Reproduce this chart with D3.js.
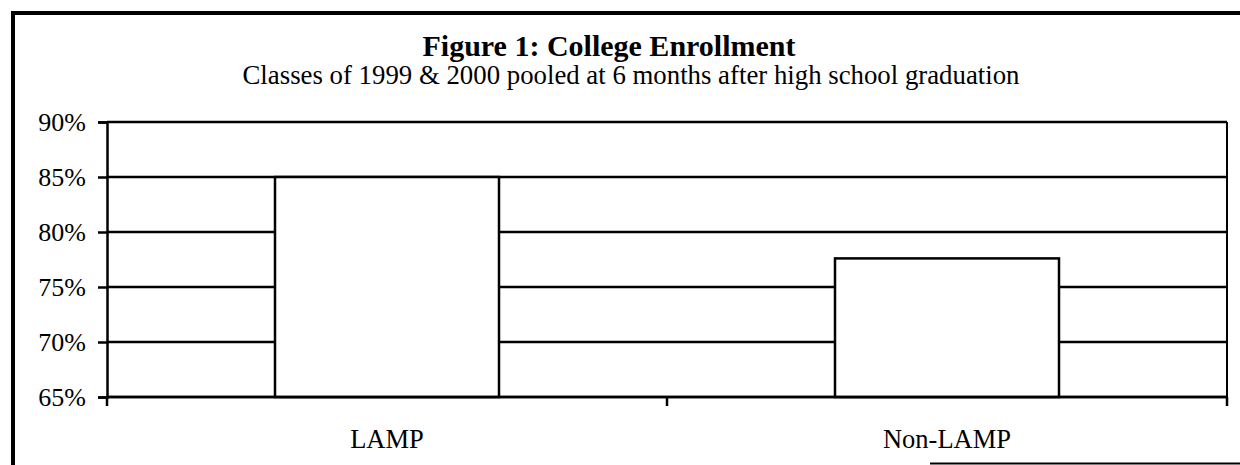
<!DOCTYPE html>
<html>
<head>
<meta charset="utf-8">
<script src="https://cdn.jsdelivr.net/npm/d3@7"></script>
<style>
  body { margin: 0; background: #fff; }
  svg { display: block; }
  text { font-family: "Liberation Serif", "Times New Roman", serif; fill: #000; }
</style>
</head>
<body>
<div id="chart"></div>
<script>
// data
var categories = ["LAMP", "Non-LAMP"];
var enrollment = [0.85, 0.776];
var yTicks = [0.65, 0.70, 0.75, 0.80, 0.85, 0.90];

var W = 1240, H = 465;
var margin = {top: 122, right: 12, bottom: 68, left: 107};

var svg = d3.select("#chart")
	.append("svg")
	.attr("width", W)
	.attr("height", H);

// outer frame (top and left only, like the scan)
svg.append("line")
	.attr("x1", 12).attr("x2", W).attr("y1", 13).attr("y2", 13)
	.attr("stroke", "#000").attr("stroke-width", 4);
svg.append("line")
	.attr("x1", 13).attr("x2", 13).attr("y1", 11).attr("y2", H)
	.attr("stroke", "#000").attr("stroke-width", 4);
svg.append("line")
	.attr("x1", 930).attr("x2", W).attr("y1", 463.5).attr("y2", 463.5)
	.attr("stroke", "#000").attr("stroke-width", 2);

// titles
svg.append("text")
	.attr("x", 609).attr("y", 56)
	.attr("text-anchor", "middle")
	.attr("font-size", 30)
	.attr("font-weight", "bold")
	.text("Figure 1: College Enrollment");

svg.append("text")
	.attr("x", 631).attr("y", 84)
	.attr("text-anchor", "middle")
	.attr("font-size", 26.8)
	.text("Classes of 1999 & 2000 pooled at 6 months after high school graduation");

var x = d3.scaleBand()
	.domain(categories)
	.range([margin.left, W - margin.right - 1])
	.paddingInner(0.6)
	.paddingOuter(0.3);

var y = d3.scaleLinear()
	.domain([0.65, 0.90])
	.range([H - margin.bottom, margin.top]);

// gridlines
svg.append("g")
	.selectAll("line")
	.data(yTicks)
	.enter()
	.append("line")
	.attr("x1", margin.left)
	.attr("x2", W - margin.right - 1)
	.attr("y1", d => y(d))
	.attr("y2", d => y(d))
	.attr("stroke", "#000")
	.attr("stroke-width", 2.5);

// right border of plot area
svg.append("line")
	.attr("x1", W - margin.right - 1).attr("x2", W - margin.right - 1)
	.attr("y1", y(0.90)).attr("y2", y(0.65) + 7)
	.attr("stroke", "#000").attr("stroke-width", 2);

// bars
svg.append("g")
	.selectAll("rect")
	.data(enrollment)
	.enter()
	.append("rect")
	.attr("x", (d, i) => x(categories[i]))
	.attr("width", x.bandwidth())
	.attr("y", d => y(d))
	.attr("height", d => y(0.65) - y(d))
	.attr("fill", "#fff")
	.attr("stroke", "#000")
	.attr("stroke-width", 2.5);

// y axis
var yAxis = d3.axisLeft(y)
	.tickValues(yTicks)
	.tickFormat(d3.format(".0%"))
	.tickSize(9)
	.tickPadding(12);

var gy = svg.append("g")
	.attr("transform", "translate(" + margin.left + ",0)")
	.call(yAxis);
gy.select(".domain").attr("stroke-width", 2.5);
gy.selectAll(".tick line").attr("stroke-width", 2.5);
gy.selectAll(".tick text")
	.attr("font-size", 26)
	.attr("font-family", "Liberation Serif, Times New Roman, serif");

// x axis: ticks at category boundaries
var step = x.step();
var bounds = [margin.left, margin.left + step, margin.left + 2 * step];
var gx = svg.append("g")
	.attr("transform", "translate(0," + y(0.65) + ")");
gx.append("line")
	.attr("x1", margin.left).attr("x2", W - margin.right - 1)
	.attr("stroke", "#000").attr("stroke-width", 2.5);
gx.selectAll("line.tk")
	.data(bounds)
	.enter()
	.append("line")
	.attr("class", "tk")
	.attr("x1", d => d).attr("x2", d => d)
	.attr("y1", 0).attr("y2", 9)
	.attr("stroke", "#000").attr("stroke-width", 2.5);
gx.selectAll("text")
	.data(categories)
	.enter()
	.append("text")
	.attr("x", d => x(d) + x.bandwidth() / 2)
	.attr("y", 51)
	.attr("text-anchor", "middle")
	.attr("font-size", 26.5)
	.text(d => d);
</script>
</body>
</html>
